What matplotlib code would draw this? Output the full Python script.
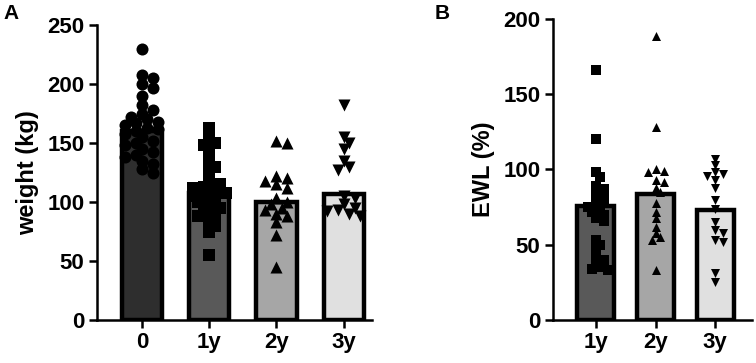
import numpy as np
import matplotlib
matplotlib.use("Agg")
import matplotlib.pyplot as plt

plt.rcParams['font.family'] = ['Liberation Sans', 'DejaVu Sans']
plt.rcParams['font.weight'] = 'bold'

# panel A: weight (kg)
groups_a = ["0", "1y", "2y", "3y"]
means_a = [160, 108, 100, 107]
weight_0 = [230, 208, 205, 200, 197, 190, 182, 178, 175, 172, 170, 168, 167, 165,
            163, 162, 160, 158, 155, 152, 150, 148, 145, 142, 140, 138, 135, 132,
            128, 125]
weight_1y = [163, 155, 150, 148, 142, 135, 130, 125, 118, 115, 113, 112, 110, 108,
             106, 105, 103, 100, 98, 95, 93, 90, 88, 85, 80, 75, 55]
weight_2y = [152, 150, 122, 120, 118, 115, 112, 103, 100, 98, 95, 93, 90, 88, 83,
             72, 45]
weight_3y = [182, 155, 150, 145, 135, 130, 127, 105, 103, 98, 95, 93, 92, 90, 88]

# panel B: EWL (%)
groups_b = ["1y", "2y", "3y"]
means_b = [76, 84, 73]
ewl_1y = [166, 120, 98, 95, 89, 87, 85, 83, 80, 78, 76, 75, 73, 72, 70, 68, 66,
          53, 50, 47, 42, 40, 38, 35, 34, 33]
ewl_2y = [189, 128, 100, 99, 98, 93, 92, 88, 85, 78, 72, 68, 62, 58, 55, 53, 33]
ewl_3y = [107, 103, 98, 97, 96, 93, 88, 80, 74, 65, 60, 58, 53, 52, 31, 25]

fills = {"0": "#2e2e2e", "1y": "#595959", "2y": "#a6a6a6", "3y": "#e0e0e0"}
markers = {"0": "o", "1y": "s", "2y": "^", "3y": "v"}


def swarm(ax, xc, vals, diam_px, half_width_px):
    # simple beeswarm in pixel space, kept inside the bar width
    placed = []
    xs = []
    x0, _ = ax.transData.transform((xc, 0))
    step = diam_px * 0.5
    for v in vals:
        _, py = ax.transData.transform((xc, v))
        best, best_d = x0, -1
        k = 0
        while True:
            off = ((k + 1) // 2) * step * (1 if k % 2 else -1)
            if abs(off) > half_width_px:
                px = best
                break
            px = x0 + off
            d = min([((px - qx) ** 2 + (py - qy) ** 2) ** 0.5 for qx, qy in placed] or [1e9])
            if d >= diam_px * 0.7:
                break
            if d > best_d:
                best, best_d = px, d
            k += 1
        placed.append((px, py))
        xs.append(ax.transData.inverted().transform((px, py))[0])
    return xs


def style(ax):
    for s in ["top", "right"]:
        ax.spines[s].set_visible(False)
    for s in ["left", "bottom"]:
        ax.spines[s].set_linewidth(1.8)
    ax.tick_params(width=1.8, length=6, labelsize=16, pad=3)
    for lab in ax.get_xticklabels() + ax.get_yticklabels():
        lab.set_fontweight('bold')


fig = plt.figure(figsize=(7.56, 3.63), dpi=100)
ax1 = fig.add_axes([0.128, 0.1185, 0.364, 0.8125])
ax2 = fig.add_axes([0.7315, 0.1185, 0.2635, 0.8292])

# panel A
ax1.set_xlim(-0.67, 3.42)
ax1.set_ylim(0, 250)
data_a = [weight_0, weight_1y, weight_2y, weight_3y]
for i, g in enumerate(groups_a):
    ax1.bar(i, means_a[i], width=0.6, color=fills[g], edgecolor="black",
            linewidth=3.2, zorder=1)
for i, g in enumerate(groups_a):
    xs = swarm(ax1, i, data_a[i], 11, 18)
    ax1.scatter(xs, data_a[i], marker=markers[g], s=75, color="black",
                linewidths=0, zorder=3, clip_on=False)
ax1.set_xticks(range(len(groups_a)))
ax1.set_xticklabels(groups_a)
ax1.set_yticks([0, 50, 100, 150, 200, 250])
ax1.set_ylabel("weight (kg)", fontsize=17, fontweight='bold', labelpad=6)
style(ax1)

# panel B
ax2.set_xlim(-0.72, 2.62)
ax2.set_ylim(0, 200)
data_b = [ewl_1y, ewl_2y, ewl_3y]
for i, g in enumerate(groups_b):
    ax2.bar(i, means_b[i], width=0.62, color=fills[g], edgecolor="black",
            linewidth=3.2, zorder=1)
for i, g in enumerate(groups_b):
    xs = swarm(ax2, i, data_b[i], 8, 16)
    ax2.scatter(xs, data_b[i], marker=markers[g], s=42, color="black",
                linewidths=0, zorder=3, clip_on=False)
ax2.set_xticks(range(len(groups_b)))
ax2.set_xticklabels(groups_b)
ax2.set_yticks([0, 50, 100, 150, 200])
ax2.set_ylabel("EWL (%)", fontsize=17, fontweight='bold', labelpad=6)
style(ax2)

fig.text(0.005, 0.962, "A", fontsize=15, fontweight='bold', va='center')
fig.text(0.575, 0.962, "B", fontsize=15, fontweight='bold', va='center')

fig.savefig("out.png", dpi=100)
